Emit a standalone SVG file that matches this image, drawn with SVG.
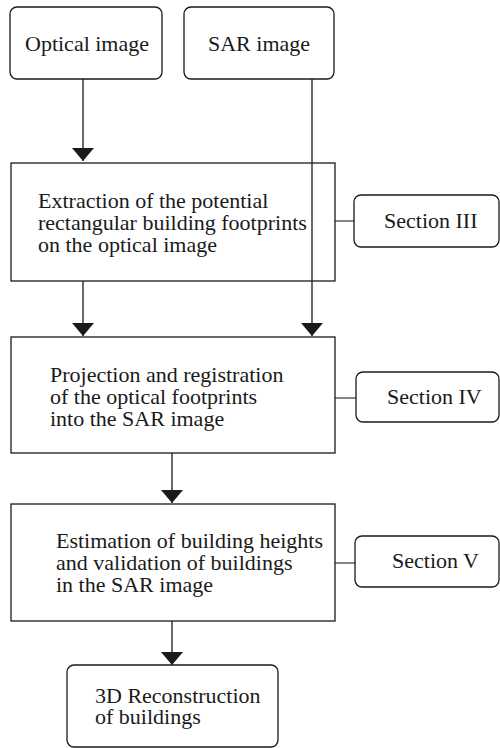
<svg xmlns="http://www.w3.org/2000/svg" width="500" height="748" viewBox="0 0 500 748">
<style>
.box{fill:#fff;stroke:#1a1a1a;stroke-width:1.3}
.t{font-family:'Liberation Serif','Times New Roman',Times,serif;font-size:22px;fill:#1a1a1a}
.c{fill:none;stroke:#1a1a1a;stroke-width:1.3}
.s{fill:none;stroke:#444;stroke-width:1.3}
</style>
<defs>
<marker id="ad" markerUnits="userSpaceOnUse" markerWidth="24" markerHeight="24" viewBox="-12 -14 24 24" refX="0" refY="0" orient="0">
<path d="M-11,-13 L11,-13 L0,0 Z" fill="#1a1a1a"/>
</marker>
</defs>
<g id="connectors">
<line class="c" x1="83" y1="79" x2="83" y2="161" marker-end="url(#ad)"/>
<line class="c" x1="312" y1="79" x2="312" y2="336" marker-end="url(#ad)"/>
<line class="c" x1="83" y1="281" x2="83" y2="336" marker-end="url(#ad)"/>
<line class="c" x1="172" y1="453" x2="172" y2="503" marker-end="url(#ad)"/>
<line class="c" x1="172" y1="621" x2="172" y2="665" marker-end="url(#ad)"/>
<line class="s" x1="335" y1="221" x2="354" y2="221"/>
<line class="s" x1="335" y1="398" x2="356" y2="398"/>
<line class="s" x1="335" y1="563" x2="355" y2="563"/>
</g>
<g id="optical">
<rect class="box" x="10" y="7" width="152" height="72" rx="7"/>
<text class="t" x="25" y="51">Optical image</text>
</g>
<g id="sar">
<rect class="box" x="184" y="7" width="150" height="72" rx="7"/>
<text class="t" x="208" y="51">SAR image</text>
</g>
<g id="extraction">
<rect class="box" x="11" y="163" width="324" height="118" style="fill:none"/>
<text class="t" x="38" y="208">Extraction of the potential</text>
<text class="t" x="38" y="230">rectangular building footprints</text>
<text class="t" x="38" y="252">on the optical image</text>
</g>
<g id="sec3">
<rect class="box" x="354" y="195" width="145" height="52" rx="7"/>
<text class="t" x="384" y="228">Section III</text>
</g>
<g id="projection">
<rect class="box" x="11" y="337" width="324" height="116"/>
<text class="t" x="50" y="382">Projection and registration</text>
<text class="t" x="50" y="404">of the optical footprints</text>
<text class="t" x="50" y="426">into the SAR image</text>
</g>
<g id="sec4">
<rect class="box" x="356" y="372" width="143" height="50" rx="7"/>
<text class="t" x="387" y="404">Section IV</text>
</g>
<g id="estimation">
<rect class="box" x="11" y="504" width="324" height="117"/>
<text class="t" x="56" y="548">Estimation of building heights</text>
<text class="t" x="56" y="570">and validation of buildings</text>
<text class="t" x="56" y="592">in the SAR image</text>
</g>
<g id="sec5">
<rect class="box" x="355" y="536" width="144" height="51" rx="7"/>
<text class="t" x="392" y="568">Section V</text>
</g>
<g id="reconstruction">
<rect class="box" x="67" y="665" width="211" height="82" rx="7"/>
<text class="t" x="95" y="703">3D Reconstruction</text>
<text class="t" x="95" y="724">of buildings</text>
</g>
</svg>
